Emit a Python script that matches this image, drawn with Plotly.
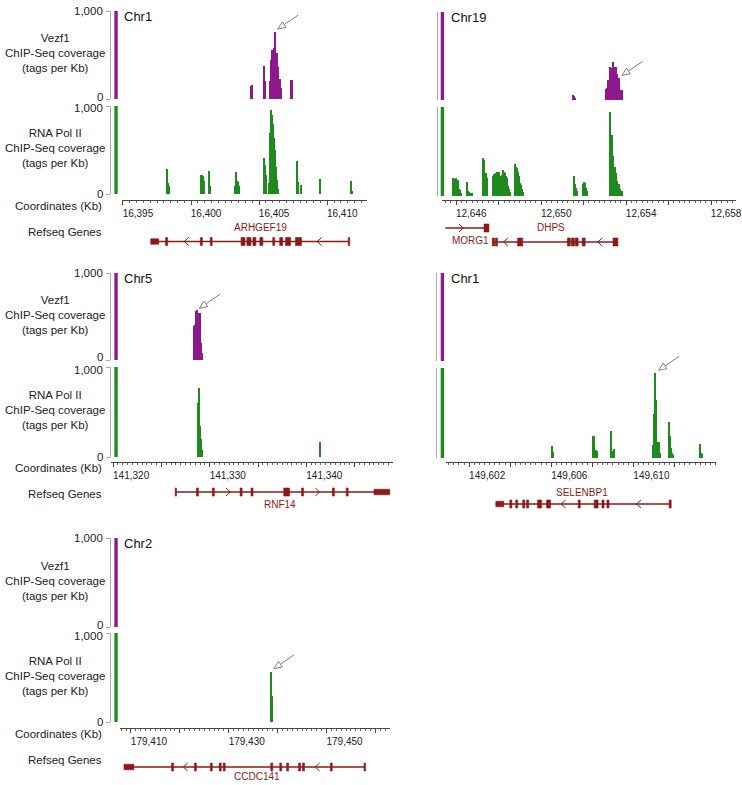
import math
import plotly.graph_objects as go

W, H = 742, 785
FONT = "Liberation Sans, Arial, Helvetica, sans-serif"
PURPLE = "#8C1A8C"
GREEN = "#1F8B1F"
GENE = "#8B1A1A"
BRACKET = "#AAAAAA"
AXIS = "#444444"
TEXT = "#222222"
ARROW = "#808080"

SCALE_MAX = 1000  # height of the track scale bars (tags per Kb)

# ---------------- coverage: bin centre (Kb) and tags per Kb ----------------
chr1a_vezf_pos = [16404.40, 16404.47, 16405.34, 16405.41, 16405.78, 16405.85, 16405.92, 16405.99,
                  16406.07, 16406.14, 16406.21, 16406.28, 16406.36, 16406.43, 16406.50, 16406.58,
                  16407.31, 16407.38, 16407.45]
chr1a_vezf_val = [150, 160, 375, 210, 200, 440, 560, 520, 580, 760, 470, 520, 360, 190, 230, 130,
                  215, 215, 145]
chr1a_pol_pos = [16398.20, 16398.28, 16398.35, 16400.75, 16400.82, 16400.90, 16400.97, 16401.34,
                 16401.41, 16403.23, 16403.30, 16403.37, 16403.45, 16403.52, 16405.34, 16405.41,
                 16405.49, 16405.71, 16405.78, 16405.85, 16405.92, 16405.99, 16406.07, 16406.14,
                 16406.21, 16406.28, 16406.36, 16407.75, 16407.82, 16407.89, 16408.04, 16408.11,
                 16409.49, 16411.75, 16411.82]
chr1a_pol_val = [280, 120, 90, 220, 220, 200, 150, 265, 90, 90, 255, 150, 140, 90, 410, 330, 220,
                 120, 690, 955, 900, 800, 640, 500, 310, 160, 60, 370, 140, 125, 105, 85, 165, 145, 35]

chr19_vezf_pos = [12651.51, 12651.56, 12651.61, 12653.05, 12653.10, 12653.14, 12653.19, 12653.24,
                  12653.28, 12653.33, 12653.38, 12653.42, 12653.47, 12653.52, 12653.56, 12653.61,
                  12653.66, 12653.70, 12653.75, 12653.80]
chr19_vezf_val = [60, 45, 25, 130, 135, 230, 230, 360, 375, 360, 410, 430, 380, 370, 320, 300, 245,
                  170, 115, 110]
chr19_pol_pos = [12645.86, 12645.91, 12645.95, 12646.00, 12646.05, 12646.09, 12646.14, 12646.19,
                 12646.23, 12646.51, 12646.56, 12646.61, 12646.70, 12646.75, 12647.26, 12647.31,
                 12647.35, 12647.40, 12647.45, 12647.49, 12647.77, 12647.82, 12647.87, 12647.91,
                 12647.96, 12648.01, 12648.05, 12648.10, 12648.15, 12648.19, 12648.24, 12648.29,
                 12648.33, 12648.38, 12648.43, 12648.47, 12648.52, 12648.57, 12648.80, 12648.85,
                 12648.89, 12648.94, 12648.99, 12649.03, 12649.08, 12649.13, 12649.17, 12651.56,
                 12651.60, 12651.65, 12651.70, 12651.98, 12652.03, 12652.07, 12652.12, 12652.16,
                 12653.28, 12653.33, 12653.38, 12653.42, 12653.47, 12653.52, 12653.56, 12653.61,
                 12653.66, 12653.70, 12653.75, 12653.80]
chr19_pol_val = [200, 150, 190, 205, 170, 185, 80, 70, 35,
                 155, 60, 40, 35, 35,
                 430, 400, 370, 260, 200, 90,
                 220, 250, 260, 250, 265, 270, 250, 225, 190, 240, 290, 270, 260, 230, 200, 110, 80, 50,
                 360, 330, 310, 270, 220, 150, 120, 75, 40,
                 220, 130, 90, 60,
                 140, 155, 150, 90, 60,
                 940, 690, 450, 340, 330, 260, 240, 170, 130, 130, 75, 60]

chr5_vezf_pos = [141328.42, 141328.52, 141328.62, 141328.73, 141328.83, 141328.93, 141329.03,
                 141329.14, 141329.24]
chr5_vezf_val = [390, 400, 560, 580, 545, 520, 535, 190, 75]
chr5_pol_pos = [141328.83, 141328.93, 141329.03, 141329.14, 141329.24, 141341.46]
chr5_pol_val = [600, 770, 350, 200, 75, 165]

chr1b_vezf_pos = []
chr1b_vezf_val = []
chr1b_pol_pos = [149606.04, 149606.09, 149608.04, 149608.09, 149608.14, 149608.19, 149608.24,
                 149608.94, 149608.99, 149609.04, 149609.09, 149610.99, 149611.03, 149611.08,
                 149611.13, 149611.18, 149611.23, 149611.28, 149611.32, 149611.76, 149611.81,
                 149611.86, 149611.90, 149611.95, 149613.26, 149613.31, 149613.35]
chr1b_pol_val = [135, 70, 245, 240, 90, 90, 80, 295, 80, 60, 95, 150, 490, 940, 650, 180, 175, 175,
                 60, 400, 240, 110, 55, 30, 160, 55, 40]

chr2_vezf_pos = []
chr2_vezf_val = []
chr2_pol_pos = [179438.6, 179438.8]
chr2_pol_val = [565, 290]

# ---------------- coordinate ruler ticks (Kb) ----------------
chr1a_ticks = [16395, 16400, 16405, 16410]
chr1a_ticklabels = ["16,395", "16,400", "16,405", "16,410"]
chr19_ticks = [12646, 12648, 12650, 12652, 12654, 12656, 12658]
chr19_ticklabels = ["12,646", "", "12,650", "", "12,654", "", "12,658"]
chr5_ticks = [141320, 141325, 141330, 141335, 141340, 141345]
chr5_ticklabels = ["141,320", "", "141,330", "", "141,340", ""]
chr1b_ticks = [149602, 149604, 149606, 149608, 149610, 149612]
chr1b_ticklabels = ["149,602", "", "149,606", "", "149,610", ""]
chr2_ticks = [179410, 179420, 179430, 179440, 179450, 179460]
chr2_ticklabels = ["179,410", "", "179,430", "", "179,450", ""]

# ---------------- RefSeq gene models (Kb) ----------------
arhgef19 = dict(name="ARHGEF19", strand="-", span=(16397.04, 16411.61),
                utrs=[(16397.04, 16397.62)],
                exons=[(16398.13, 16398.28), (16400.68, 16400.83), (16401.41, 16401.55),
                       (16403.67, 16403.96), (16404.10, 16404.40), (16404.54, 16404.76),
                       (16405.05, 16405.27), (16406.00, 16406.14), (16406.51, 16406.73),
                       (16406.94, 16407.31), (16407.67, 16408.11), (16411.54, 16411.65)],
                chevrons=[16399.66, 16409.42], label_x=16405.12)
morg1 = dict(name="MORG1", strand="+", span=(12645.49, 12647.54),
             utrs=[], exons=[(12647.31, 12647.54)], chevrons=[12646.23], label_x=12647.62)
dhps = dict(name="DHPS", strand="-", span=(12647.70, 12653.61),
            utrs=[],
            exons=[(12647.70, 12647.80), (12647.84, 12647.94), (12648.89, 12649.13),
                   (12651.23, 12651.37), (12651.42, 12651.56), (12651.60, 12651.74),
                   (12651.93, 12652.07), (12653.38, 12653.61)],
            chevrons=[12648.33, 12652.77], label_x=12650.44)
rnf14 = dict(name="RNF14", strand="+", span=(141326.47, 141348.64),
             utrs=[(141347.0, 141348.64)],
             exons=[(141326.42, 141326.56), (141328.62, 141328.83), (141330.27, 141330.47),
                    (141333.14, 141333.35), (141334.27, 141334.48), (141337.66, 141338.27),
                    (141339.51, 141339.71), (141342.69, 141342.90), (141344.13, 141344.33)],
             chevrons=[141331.91, 141341.15], label_x=141337.3)
selenbp1 = dict(name="SELENBP1", strand="-", span=(149603.30, 149611.81),
                utrs=[(149603.30, 149603.69)],
                exons=[(149603.98, 149604.08), (149604.27, 149604.37), (149604.61, 149604.71),
                       (149604.80, 149604.90), (149605.33, 149605.53), (149605.77, 149605.96),
                       (149607.31, 149607.41), (149608.09, 149608.28), (149608.47, 149608.57),
                       (149608.71, 149608.81), (149611.74, 149611.84)],
                chevrons=[149606.59, 149610.26], label_x=149607.51)
ccdc141 = dict(name="CCDC141", strand="-", span=(179408.58, 179457.87),
               utrs=[(179408.58, 179410.61)],
               exons=[(179418.32, 179418.72), (179422.98, 179423.38), (179426.23, 179426.63),
                      (179428.06, 179428.46), (179428.87, 179429.27), (179438.60, 179439.00),
                      (179440.43, 179440.83), (179441.85, 179442.25), (179444.28, 179444.68),
                      (179445.09, 179445.49), (179450.77, 179451.17), (179457.67, 179457.97)],
               chevrons=[179421.16, 179448.13], label_x=179435.76)

# ---------------- panel layout (pixel geometry) ----------------
panels = [
    dict(chrom="Chr1", left=True, xr=(16394.93, 16412.92), xdom=(123, 370),
         vz=(11, 99), pl=(106, 194), ruler=200, bracket=111, sbar=(115.3, 118.7),
         ticks=chr1a_ticks, ticklabels=chr1a_ticklabels, minor=0.5, shift=15, bw=0.072,
         vezf=(chr1a_vezf_pos, chr1a_vezf_val), pol=(chr1a_pol_pos, chr1a_pol_val),
         genes=[(arhgef19, 241.5, 228, "center")]),
    dict(chrom="Chr19", left=False, xr=(12645.35, 12659.17), xdom=(446, 742),
         vz=(12, 100), pl=(107, 196), ruler=200, bracket=441, sbar=(444.3, 447.7),
         ticks=chr19_ticks, ticklabels=chr19_ticklabels, minor=0.25, shift=15, bw=0.047,
         vezf=(chr19_vezf_pos, chr19_vezf_val), pol=(chr19_pol_pos, chr19_pol_val),
         genes=[(morg1, 228, 241, "right"), (dhps, 242, 228, "center")]),
    dict(chrom="Chr5", left=True, xr=(141319.79, 141348.95), xdom=(112, 396),
         vz=(273, 360), pl=(367, 457), ruler=462, bracket=111, sbar=(115.3, 118.7),
         ticks=chr5_ticks, ticklabels=chr5_ticklabels, minor=0.5, shift=18, bw=0.103,
         vezf=(chr5_vezf_pos, chr5_vezf_val), pol=(chr5_pol_pos, chr5_pol_val),
         genes=[(rnf14, 492, 504, "center")]),
    dict(chrom="Chr1", left=False, xr=(149600.89, 149614.03), xdom=(450, 722),
         vz=(273, 361), pl=(368, 458), ruler=462, bracket=440, sbar=(444.3, 447.7),
         ticks=chr1b_ticks, ticklabels=chr1b_ticklabels, minor=0.25, shift=18, bw=0.048,
         vezf=(chr1b_vezf_pos, chr1b_vezf_val), pol=(chr1b_pol_pos, chr1b_pol_val),
         genes=[(selenbp1, 504, 492, "center")]),
    dict(chrom="Chr2", left=True, xr=(179407.77, 179462.94), xdom=(121, 393),
         vz=(538, 627), pl=(633, 722), ruler=728, bracket=111, sbar=(115.3, 118.7),
         ticks=chr2_ticks, ticklabels=chr2_ticklabels, minor=1, shift=18, bw=0.2,
         vezf=(chr2_vezf_pos, chr2_vezf_val), pol=(chr2_pol_pos, chr2_pol_val),
         genes=[(ccdc141, 767, 776.5, "center")]),
]

# peaks marked with a pointer: (panel, track, position Kb, tags per Kb)
pointers = [(0, "vz", 16406.14, 760), (1, "vz", 12653.66, 245), (2, "vz", 141328.62, 560),
            (3, "pl", 149611.08, 940), (4, "pl", 179438.6, 565)]


def fx(x):
    return x / W


def fy(y):
    return 1 - y / H


def kb_to_px(p, kb):
    (r0, r1), (d0, d1) = p["xr"], p["xdom"]
    return d0 + (kb - r0) / (r1 - r0) * (d1 - d0)


def val_to_py(p, track, v):
    top, bottom = p[track]
    return bottom - v / SCALE_MAX * (bottom - top)


fig = go.Figure()
layout = {}
shapes = []
annotations = []


def ann(text, x, y, size, color=TEXT, xanchor="center", yanchor="middle", xref="paper",
        yref="paper", **kw):
    annotations.append(dict(text=text, x=x, y=y, xref=xref, yref=yref, showarrow=False,
                            xanchor=xanchor, yanchor=yanchor,
                            font=dict(family=FONT, size=size, color=color), **kw))


for i, p in enumerate(panels):
    xn = i + 1
    xname = "x" if xn == 1 else f"x{xn}"
    xkey = "xaxis" if xn == 1 else f"xaxis{xn}"
    y_ids = {"vz": 2 * i + 1, "pl": 2 * i + 2}

    layout[xkey] = dict(
        domain=[fx(p["xdom"][0]), fx(p["xdom"][1])], range=list(p["xr"]),
        anchor="free", position=fy(p["ruler"]),
        showline=True, linecolor=AXIS, linewidth=1,
        ticks="outside", ticklen=4, tickwidth=1, tickcolor=AXIS,
        tickmode="array", tickvals=p["ticks"], ticktext=p["ticklabels"],
        tickfont=dict(family=FONT, size=10, color=TEXT),
        ticklabelshift=p["shift"], ticklabelstandoff=0, ticklabeloverflow="allow",
        minor=dict(tick0=p["ticks"][0], dtick=p["minor"], ticks="outside", ticklen=2,
                   tickwidth=1, tickcolor="#666666", showgrid=False),
        showgrid=False, zeroline=False, fixedrange=True,
    )

    for track, color, data in (("vz", PURPLE, p["vezf"]), ("pl", GREEN, p["pol"])):
        yn = y_ids[track]
        yname = "y" if yn == 1 else f"y{yn}"
        ykey = "yaxis" if yn == 1 else f"yaxis{yn}"
        top, bottom = p[track]
        layout[ykey] = dict(
            domain=[fy(bottom), fy(top)], range=[0, SCALE_MAX],
            anchor="free", position=fx(p["bracket"]),
            showline=True, linecolor=BRACKET, linewidth=1,
            ticks="outside" if p["left"] else "inside", ticklen=4, tickwidth=1,
            tickcolor=BRACKET, tickmode="array", tickvals=[0, SCALE_MAX],
            showticklabels=False,
            showgrid=False, zeroline=False, fixedrange=True,
        )
        pos, val = data
        fig.add_trace(go.Bar(x=pos, y=val, width=p["bw"], marker=dict(color=color, line=dict(width=0)),
                             xaxis=xname, yaxis=yname, showlegend=False, hoverinfo="skip"))
        # scale bar spanning the full track height
        shapes.append(dict(type="rect", xref="paper", yref=yname,
                           x0=fx(p["sbar"][0]), x1=fx(p["sbar"][1]), y0=0, y1=SCALE_MAX,
                           fillcolor=color, line=dict(width=0)))
        if p["left"]:
            name = "Vezf1" if track == "vz" else "RNA Pol II"
            ann(f"{name}<br>ChIP-Seq coverage<br>(tags per Kb)", fx(55),
                fy((top + bottom) / 2 - 2), 11.5)
            # scale labels, nudged apart where two tracks meet
            ann(f"{SCALE_MAX:,}", fx(p["bracket"] - 5), SCALE_MAX, 11.5, xanchor="right",
                yref=yname, yshift=-2.5 if track == "pl" else 0)
            ann("0", fx(p["bracket"] - 5), 0, 11.5, xanchor="right",
                yref=yname, yshift=2.5 if track == "vz" else 0)

    ann(p["chrom"], fx(p["sbar"][1] + 4.5), fy(p["vz"][0] + 5.5), 13, color="#111111", xanchor="left")
    if p["left"]:
        ann("Coordinates (Kb)", fx(105), fy(p["ruler"] + 6), 11.5, xanchor="right")
        ann("Refseq Genes", fx(105), fy(p["ruler"] + 31.5), 11.5, xanchor="right")

    # gene models
    kbpp = (p["xr"][1] - p["xr"][0]) / (p["xdom"][1] - p["xdom"][0])
    for g, row, label_y, anchor in p["genes"]:
        shapes.append(dict(type="line", xref=xname, yref="paper", x0=g["span"][0], x1=g["span"][1],
                           y0=fy(row), y1=fy(row), line=dict(color=GENE, width=1.3)))
        for (a, b), h in [(e, 8) for e in g["exons"]] + [(u, 5.5) for u in g["utrs"]]:
            shapes.append(dict(type="rect", xref=xname, yref="paper", x0=a, x1=b,
                               y0=fy(row + h / 2), y1=fy(row - h / 2),
                               fillcolor=GENE, line=dict(color=GENE, width=0.6)))
        hw = 2.2 * kbpp
        for c in g["chevrons"]:
            s = 1 if g["strand"] == "-" else -1
            path = (f"M{c + s * hw},{fy(row - 4)} L{c - s * hw},{fy(row)} L{c + s * hw},{fy(row + 4)}")
            shapes.append(dict(type="path", xref=xname, yref="paper", path=path,
                               line=dict(color=GENE, width=1)))
        ann(g["name"], g["label_x"], fy(label_y), 10, color=GENE, xanchor=anchor, xref=xname)

# pointer arrows with open heads
for pi, track, kb, v in pointers:
    p = panels[pi]
    tx, ty = kb_to_px(p, kb) + 3, val_to_py(p, track, v) - 3
    dx, dy = 20, -13.5
    n = math.hypot(dx, dy)
    ux, uy = dx / n, dy / n
    head, half, length = 8, 3.3, 25
    bx, by = tx + ux * head, ty + uy * head
    ex, ey = tx + ux * length, ty + uy * length
    px_, py_ = -uy, ux
    shapes.append(dict(type="line", xref="paper", yref="paper", x0=fx(bx), y0=fy(by), x1=fx(ex), y1=fy(ey),
                       line=dict(color=ARROW, width=1)))
    tri = (f"M{fx(tx)},{fy(ty)} L{fx(bx + px_ * half)},{fy(by + py_ * half)} "
           f"L{fx(bx - px_ * half)},{fy(by - py_ * half)} Z")
    shapes.append(dict(type="path", xref="paper", yref="paper", path=tri,
                       fillcolor="white", line=dict(color=ARROW, width=1)))

fig.update_layout(
    width=W, height=H, margin=dict(l=0, r=0, t=0, b=0),
    paper_bgcolor="white", plot_bgcolor="white",
    barmode="overlay", bargap=0, showlegend=False,
    font=dict(family=FONT, color=TEXT),
    shapes=shapes, annotations=annotations,
    **layout,
)

fig.write_html("out.html")
